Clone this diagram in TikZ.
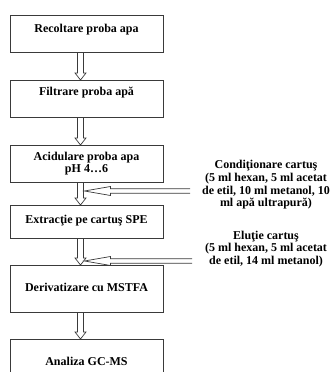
\documentclass[tikz,border=0pt]{standalone}
\usepackage{fontspec}
\setmainfont{Liberation Serif}
\usetikzlibrary{arrows.meta,positioning,calc}
\definecolor{Contur}{HTML}{3A3A3A}

\begin{document}
\begin{tikzpicture}[
  x=1pt,y=1pt,
  font=\fontsize{12}{12.7}\selectfont\bfseries,
  etapa/.style={draw=Contur,line width=0.5pt,minimum width=153pt,inner sep=0pt,anchor=north},
  nota/.style={align=center,inner sep=0pt},
  % sageti goale, trasate ca contur
  flechajos/.style={draw=Contur,line width=0.7pt,line join=miter,
    to path={let \p1=(\tikztostart),\p2=(\tikztotarget) in
      (\x1-2.95pt,\y1)--(\x1-2.95pt,\y2+7pt)--(\x1-5.5pt,\y2+7pt)--(\x2,\y2)
      --(\x1+5.5pt,\y2+7pt)--(\x1+2.95pt,\y2+7pt)--(\x1+2.95pt,\y1)}},
  flechastanga/.style={draw=Contur,line width=0.7pt,line join=miter,
    to path={let \p1=(\tikztostart),\p2=(\tikztotarget) in
      (\x1,\y1+2.2pt)--(\x2+26pt,\y1+2.2pt)--(\x2+26pt,\y1+4.5pt)--(\x2,\y2)
      --(\x2+26pt,\y1-4.5pt)--(\x2+26pt,\y1-2.2pt)--(\x1,\y1-2.2pt)}}
]
  \useasboundingbox (0,0) rectangle (333,372);
  \clip (0,0) rectangle (333,372);

  % Etapele analizei
  \node[etapa,text height=17pt,text depth=20pt] (recoltare) at (86.5,357)
    {Recoltare proba apa};
  \node[etapa,text height=15pt,text depth=22pt] (filtrare) at (86.5,292)
    {Filtrare proba apă};
  \node[etapa,minimum height=37pt,align=center] (acidulare) at (86.5,227)
    {Acidulare proba apa\\pH 4\ldots6};
  \node[etapa,text height=18pt,text depth=15pt] (extractie) at (86.5,167)
    {Extracţie pe cartuş SPE};
  \node[etapa,text height=26pt,text depth=21pt] (derivatizare) at (86.5,107)
    {Derivatizare cu MSTFA};
  \node[etapa,text height=26pt,text depth=20pt] (analiza) at (86.5,33)
    {Analiza GC-MS};

  \draw[flechajos] ([xshift=-6pt]recoltare.south) to ([xshift=-6pt]filtrare.north);
  \draw[flechajos] ([xshift=-6pt]filtrare.south) to ([xshift=-6pt]acidulare.north);
  \draw[flechajos] ([xshift=-6pt]acidulare.south) to ([xshift=-6pt]extractie.north);
  \draw[flechajos] ([xshift=-6pt]extractie.south) to ([xshift=-6pt]derivatizare.north);
  \draw[flechajos] ([xshift=-6pt]derivatizare.south) to ([xshift=-6pt]analiza.north);

  % Intrari laterale
  \node[nota] (conditionare) at (266,187)
    {Condiţionare cartuş\\(5 ml hexan, 5 ml acetat\\de etil, 10 ml metanol, 10\\ml apă ultrapură)};
  \node[nota] (elutie) at (266,123)
    {Eluţie cartuş\\(5 ml hexan, 5 ml acetat\\de etil, 14 ml metanol)};
  \coordinate (intrareA) at (190,181);
  \coordinate (tintaA) at (84.5,181);
  \coordinate (intrareB) at (192,111);
  \coordinate (tintaB) at (84.5,111);
  \draw[flechastanga] (intrareA) to (tintaA);
  \draw[flechastanga] (intrareB) to (tintaB);
\end{tikzpicture}
\end{document}
